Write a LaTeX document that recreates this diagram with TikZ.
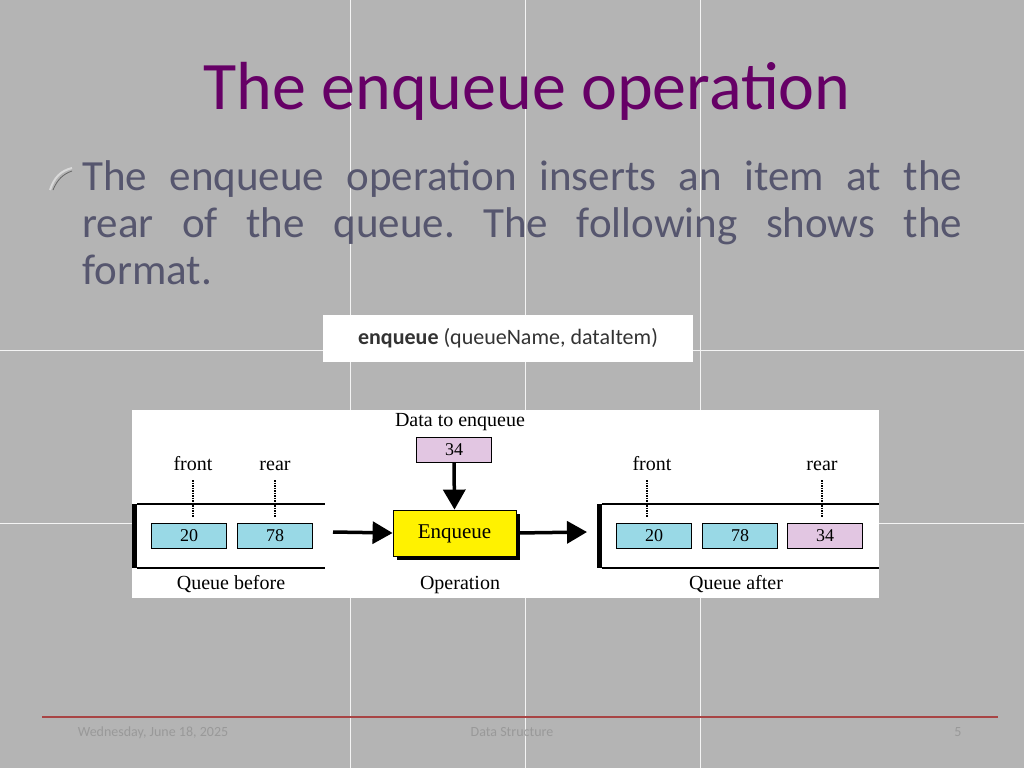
\documentclass[tikz,border=0pt]{standalone}
\usepackage{fontspec}
\setmainfont{Carlito}
\newfontfamily\diagfont{Liberation Serif}
\usetikzlibrary{arrows.meta}
\frenchspacing
\definecolor{slidebg}{HTML}{B4B4B4}
\definecolor{titlepurple}{HTML}{660066}
\definecolor{bodyslate}{HTML}{56566E}
\definecolor{cellblue}{HTML}{99D9E6}
\definecolor{cellpink}{HTML}{E2C6E2}
\definecolor{footred}{HTML}{A84444}
\tikzset{
  cell/.style={draw, thick, minimum width=75pt, minimum height=25pt, inner sep=0pt, text height=12pt, text depth=2pt, font=\diagfont\fontsize{18}{18}\selectfont},
  lbl/.style={font=\diagfont\fontsize{20}{20}\selectfont, inner sep=0pt, text height=14pt, text depth=4pt},
  ptr/.style={densely dotted, line width=1.5pt},
  bigarrow/.style={line width=3.5pt, -{Triangle[length=20pt,width=22pt]}},
  foot/.style={font=\fontsize{14}{14}\selectfont, text=gray!80!white, inner sep=0pt, text height=10pt, text depth=3pt}
}
\begin{document}
\begin{tikzpicture}[x=1pt,y=-1pt]
\fill[slidebg] (0,0) rectangle (1024,768);
\useasboundingbox (0,0) rectangle (1024,768);
% faint grid
\foreach \gx in {350,525,700} \draw[white!85!slidebg] (\gx,0) -- (\gx,768);
\foreach \gy in {350,523} \draw[white!85!slidebg] (0,\gy) -- (1024,\gy);
% title and body
\node[text=titlepurple, font=\fontsize{68}{68}\selectfont, text height=48pt, text depth=14pt] (title) at (527,92) {The enqueue operation};
\draw[white!70!gray, line width=2pt] (50,190) .. controls (54,178) and (60,171) .. (72,168);
\draw[gray!80!black, line width=0.8pt] (53,190) .. controls (57,180) and (63,174) .. (72,171);
\node[anchor=north west, text=bodyslate, text width=880pt, align=justify, font=\fontsize{43}{47}\selectfont, inner sep=0pt] (body) at (82,160)
  {The enqueue operation inserts an item at the\linebreak rear of the queue. The following shows the\linebreak format.};
% format box
\node[fill=white, minimum width=370pt, minimum height=47pt, font=\fontsize{22}{22}\selectfont, text=black!80] (fmt) at (508,338) {\textbf{enqueue} (queueName, dataItem)};
% diagram panel
\fill[white] (132,410) rectangle (879,598);
% queue before
\fill (132,504) rectangle (137,568);
\draw[line width=1.5pt] (137,504) -- (325,504) (137,568) -- (325,568);
\node[cell, fill=cellblue] (b1) at (189,536) {20};
\node[cell, fill=cellblue] (b2) at (275,536) {78};
\node[lbl] (bfront) at (193,465) {front};
\node[lbl] (brear) at (275,465) {rear};
\draw[ptr] (193,480) -- (193,517);
\draw[ptr] (275,480) -- (275,517);
\node[lbl] (before) at (231,584) {Queue before};
% operation
\node[lbl] (datalbl) at (460,421) {Data to enqueue};
\node[cell, fill=cellpink] (item) at (454,450) {34};
\fill (397,514) rectangle (520,560);
\node[draw, thick, fill=yellow, minimum width=123pt, minimum height=46pt, inner sep=0pt, text height=14pt, text depth=4pt, font=\diagfont\fontsize{21}{21}\selectfont] (op) at (454.5,533) {Enqueue};
\coordinate (inpt) at (333,532);
\draw[bigarrow] (item.south) -- (op.north);
\draw[bigarrow] (inpt) -- (op.west);
\node[lbl] (oplbl) at (460,584) {Operation};
% queue after
\fill (597,504) rectangle (602,568);
\draw[line width=1.5pt] (602,504) -- (879,504) (602,568) -- (879,568);
\node[cell, fill=cellblue] (a1) at (654,536) {20};
\node[cell, fill=cellblue] (a2) at (740,536) {78};
\node[cell, fill=cellpink] (a3) at (825,536) {34};
\coordinate (outpt) at (587,532);
\draw[bigarrow] (op.east) -- (outpt);
\node[lbl] (afront) at (652,465) {front};
\node[lbl] (arear) at (822,465) {rear};
\draw[ptr] (647,480) -- (647,517);
\draw[ptr] (822,480) -- (822,517);
\node[lbl] (after) at (736,584) {Queue after};
% footer
\draw[footred, line width=2.5pt] (42,717) -- (998,717);
\node[foot] (date) at (153,733) {Wednesday, June 18, 2025};
\node[foot] (course) at (512,733) {Data Structure};
\node[foot] (page) at (958,733) {5};
\end{tikzpicture}
\end{document}
